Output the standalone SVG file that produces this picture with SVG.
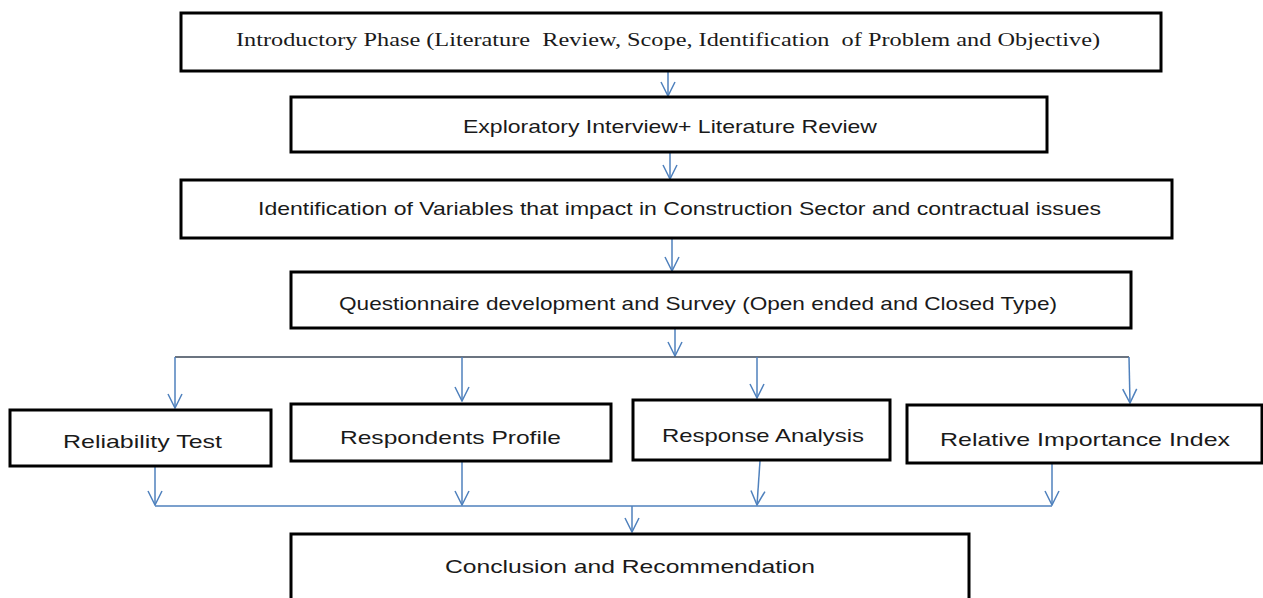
<svg xmlns="http://www.w3.org/2000/svg" width="1263" height="598" viewBox="0 0 1263 598">
  <defs>
    <!-- open V arrowhead, pointing along the line direction -->
    <marker id="vhead" viewBox="0 0 16 16" refX="15" refY="8" markerWidth="16" markerHeight="16" markerUnits="userSpaceOnUse" orient="auto">
      <path d="M1,1 L15,8 L1,15" fill="none" stroke="#4f81bd" stroke-width="1.5"/>
    </marker>
    <style>
      .box { fill: #ffffff; stroke: #000000; stroke-width: 3; }
      .serif { font-family: "Liberation Serif", "Times New Roman", serif; font-size: 19px; fill: #1a1a1a; white-space: pre; }
      .sans { font-family: "Liberation Sans", Arial, sans-serif; font-size: 19px; fill: #1a1a1a; }
      .flow { fill: none; stroke: #4f81bd; stroke-width: 1.5; }
      .arrow { fill: none; stroke: #4f81bd; stroke-width: 1.5; marker-end: url(#vhead); }
      .bus { fill: none; stroke: #3a4656; stroke-width: 1.5; }
    </style>
  </defs>
  <rect width="1263" height="598" fill="#ffffff"/>

  <g id="connectors">
    <!-- main vertical chain -->
    <line class="arrow" x1="668" y1="72" x2="668" y2="96"/>
    <line class="arrow" x1="670" y1="153" x2="670" y2="179"/>
    <line class="arrow" x1="672" y1="239" x2="672" y2="271"/>
    <line class="arrow" x1="675" y1="329" x2="675" y2="356"/>
    <!-- distribution bus to the four analysis boxes -->
    <line class="bus" x1="175" y1="357" x2="1129" y2="357"/>
    <line class="arrow" x1="175" y1="357" x2="175" y2="408"/>
    <line class="arrow" x1="462" y1="357" x2="462" y2="401"/>
    <line class="arrow" x1="757" y1="357" x2="757" y2="398"/>
    <line class="arrow" x1="1129" y1="357" x2="1130" y2="403"/>
    <!-- collection bus to the conclusion -->
    <line class="arrow" x1="155" y1="467" x2="155" y2="505"/>
    <line class="arrow" x1="462" y1="462" x2="462" y2="505"/>
    <line class="arrow" x1="760" y1="461" x2="757" y2="505"/>
    <line class="arrow" x1="1052" y1="464" x2="1052" y2="505"/>
    <line class="flow" x1="155" y1="506" x2="1052" y2="506"/>
    <line class="arrow" x1="632" y1="506" x2="632" y2="532"/>
  </g>

  <g id="introductory-phase">
    <rect class="box" x="181" y="13" width="980" height="58"/>
    <text class="serif" x="236" y="46" textLength="864" lengthAdjust="spacingAndGlyphs" xml:space="preserve">Introductory Phase (Literature  Review, Scope, Identification  of Problem and Objective)</text>
  </g>

  <g id="exploratory-interview">
    <rect class="box" x="291" y="97" width="756" height="55"/>
    <text class="sans" x="463" y="133" textLength="414" lengthAdjust="spacingAndGlyphs">Exploratory Interview+ Literature Review</text>
  </g>

  <g id="identification-variables">
    <rect class="box" x="181" y="180" width="991" height="58"/>
    <text class="sans" x="258" y="215" textLength="843" lengthAdjust="spacingAndGlyphs">Identification of Variables that impact in Construction Sector and contractual issues</text>
  </g>

  <g id="questionnaire">
    <rect class="box" x="291" y="272" width="840" height="56"/>
    <text class="sans" x="339" y="310" textLength="718" lengthAdjust="spacingAndGlyphs">Questionnaire development and Survey (Open ended and Closed Type)</text>
  </g>

  <g id="reliability-test">
    <rect class="box" x="10" y="410" width="261" height="56"/>
    <text class="sans" x="63" y="448" textLength="159" lengthAdjust="spacingAndGlyphs">Reliability Test</text>
  </g>

  <g id="respondents-profile">
    <rect class="box" x="291" y="404" width="320" height="57"/>
    <text class="sans" x="340" y="444" textLength="221" lengthAdjust="spacingAndGlyphs">Respondents Profile</text>
  </g>

  <g id="response-analysis">
    <rect class="box" x="633" y="400" width="257" height="60"/>
    <text class="sans" x="662" y="442" textLength="202" lengthAdjust="spacingAndGlyphs">Response Analysis</text>
  </g>

  <g id="relative-importance-index">
    <rect class="box" x="907" y="405" width="355" height="58"/>
    <text class="sans" x="940" y="446" textLength="290" lengthAdjust="spacingAndGlyphs">Relative Importance Index</text>
  </g>

  <g id="conclusion">
    <rect class="box" x="291" y="534" width="678" height="70"/>
    <text class="sans" x="445" y="573" textLength="370" lengthAdjust="spacingAndGlyphs">Conclusion and Recommendation</text>
  </g>
</svg>
